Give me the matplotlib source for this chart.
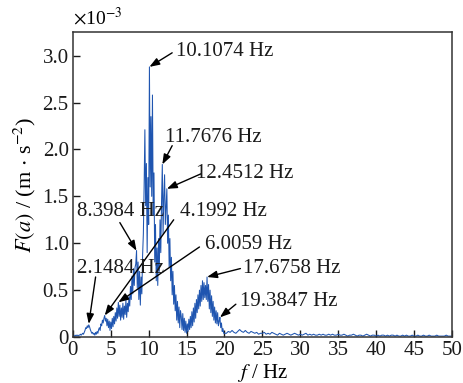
import matplotlib
matplotlib.use('Agg')
import matplotlib.pyplot as plt
import numpy as np

plt.rcParams['font.family'] = ['Liberation Serif', 'DejaVu Serif']
plt.rcParams['mathtext.fontset'] = 'stix'

# spectrum amplitude (x1e-3), 0.0 - 19.9 Hz in 0.1 Hz steps
amp_low = [
    0.00, 0.01, 0.01, 0.02, 0.01, 0.02, 0.02, 0.01, 0.02, 0.02,
    0.03, 0.02, 0.03, 0.04, 0.03, 0.05, 0.07, 0.10, 0.09, 0.12,
    0.10, 0.13, 0.11, 0.08, 0.06, 0.04, 0.05, 0.03, 0.04, 0.02,
    0.05, 0.03, 0.06, 0.04, 0.08, 0.10, 0.07, 0.14, 0.12, 0.18,
    0.15, 0.20, 0.23, 0.17, 0.20, 0.12, 0.19, 0.10, 0.17, 0.07,
    0.16, 0.09, 0.20, 0.11, 0.22, 0.14, 0.26, 0.17, 0.31, 0.20,
    0.37, 0.22, 0.34, 0.18, 0.31, 0.21, 0.36, 0.19, 0.33, 0.24,
    0.39, 0.21, 0.36, 0.27, 0.43, 0.33, 0.54, 0.40, 0.65, 0.46,
    0.73, 0.55, 0.74, 0.78, 0.92, 0.52, 0.80, 0.40, 0.70, 0.34,
    0.64, 0.46, 0.87, 1.10, 1.60, 2.21, 1.40, 1.85, 0.90, 1.70,
    1.20, 2.88, 1.60, 2.35, 1.50, 2.58, 1.30, 1.75, 0.80, 1.20,
    0.60, 0.95, 0.55, 1.05, 0.70, 1.25, 0.90, 1.45, 1.84, 1.10,
    1.50, 1.73, 1.20, 1.40, 1.58, 1.00, 1.30, 0.75, 1.05, 0.60,
    0.85, 0.45, 0.70, 0.35, 0.55, 0.28, 0.45, 0.18, 0.38, 0.15,
    0.32, 0.10, 0.28, 0.22, 0.08, 0.25, 0.07, 0.20, 0.05, 0.17,
    0.04, 0.14, 0.06, 0.19, 0.08, 0.22, 0.10, 0.27, 0.12, 0.31,
    0.16, 0.36, 0.20, 0.40, 0.26, 0.45, 0.30, 0.50, 0.33, 0.55,
    0.38, 0.60, 0.40, 0.58, 0.42, 0.55, 0.40, 0.64, 0.38, 0.56,
    0.30, 0.50, 0.26, 0.44, 0.22, 0.38, 0.18, 0.32, 0.15, 0.28,
    0.14, 0.26, 0.12, 0.17, 0.21, 0.10, 0.15, 0.06, 0.09, 0.04,
]
freq_low = np.round(np.arange(len(amp_low)) * 0.1, 2)

# 20.0 - 50.0 Hz in 0.25 Hz steps
amp_high = [
    0.04,
    0.04, 0.06, 0.05, 0.07, 0.05, 0.04, 0.06, 0.08, 0.06, 0.05,
    0.07, 0.05, 0.04, 0.06, 0.05, 0.04, 0.05, 0.03, 0.04, 0.04,
    0.05, 0.03, 0.04, 0.03, 0.05, 0.04, 0.03, 0.02, 0.04, 0.03,
    0.02, 0.03, 0.04, 0.03, 0.02, 0.03, 0.04, 0.03, 0.02, 0.03,
    0.02, 0.03, 0.04, 0.02, 0.03, 0.02, 0.03, 0.02, 0.02, 0.03,
    0.02, 0.03, 0.02, 0.02, 0.03, 0.02, 0.03, 0.02, 0.02, 0.03,
    0.02, 0.02, 0.03, 0.02, 0.01, 0.02, 0.02, 0.03, 0.02, 0.01,
    0.02, 0.02, 0.01, 0.02, 0.03, 0.02, 0.01, 0.02, 0.02, 0.01,
    0.02, 0.01, 0.02, 0.02, 0.01, 0.02, 0.01, 0.02, 0.02, 0.01,
    0.02, 0.01, 0.01, 0.02, 0.01, 0.02, 0.01, 0.01, 0.02, 0.01,
    0.01, 0.02, 0.01, 0.01, 0.02, 0.01, 0.01, 0.02, 0.01, 0.01,
    0.01, 0.02, 0.01, 0.01, 0.01, 0.01, 0.02, 0.01, 0.01, 0.01,
]
freq_high = np.round(20.0 + np.arange(len(amp_high)) * 0.25, 2)

freq = np.concatenate([freq_low, freq_high])
amp = np.concatenate([amp_low, amp_high])

# annotated peaks: label, peak (f, a), text position (f, a)
peak_labels = ['10.1074 Hz', '11.7676 Hz', '12.4512 Hz', '8.3984 Hz', '4.1992 Hz',
               '6.0059 Hz', '2.1484 Hz', '17.6758 Hz', '19.3847 Hz']
peak_xy = [(10.1, 2.88), (11.8, 1.84), (12.4, 1.58), (8.4, 0.92), (4.2, 0.23),
           (6.0, 0.37), (2.1, 0.14), (17.7, 0.64), (19.4, 0.21)]
text_xy = [(13.6, 3.04), (12.1, 2.13), (16.2, 1.74), (0.6, 1.34), (14.1, 1.34),
           (17.4, 0.99), (0.5, 0.73), (22.4, 0.73), (22.0, 0.38)]
tail_xy = [(13.1, 3.03), (13.1, 2.04), (16.9, 1.74), (6.2, 1.22), (13.3, 1.25),
           (16.7, 0.96), (3.0, 0.64), (22.1, 0.73), (21.5, 0.35)]

fig = plt.figure(figsize=(4.64, 3.83), dpi=100)
ax = fig.add_axes([0.157, 0.120, 0.817, 0.796])

ax.plot(freq, amp, color='#1f55b0', lw=0.75)

for lab, p, t, tl in zip(peak_labels, peak_xy, text_xy, tail_xy):
    ax.annotate('', xy=p, xytext=tl,
                arrowprops=dict(arrowstyle='-|>,head_length=0.6,head_width=0.22',
                                color='black', lw=1.0, shrinkA=0, shrinkB=0))
    ax.text(t[0], t[1], lab, fontsize=15, ha='left', va='center', color='#1a1a1a')

ax.set_xlim(0, 50)
ax.set_ylim(0, 3.25)
ax.set_xticks(np.arange(0, 51, 5))
ax.set_yticks([0, 0.5, 1.0, 1.5, 2.0, 2.5, 3.0])
ax.set_yticklabels(['0', '0.5', '1.0', '1.5', '2.0', '2.5', '3.0'])
ax.tick_params(direction='in', length=5, width=1.0, labelsize=15, colors='#1a1a1a', pad=3)
for s in ax.spines.values():
    s.set_linewidth(1.1)
    s.set_color('#333333')

ax.set_xlabel(r'$f$ / Hz', fontsize=15, labelpad=1)
ax.set_ylabel(r'$F(a)$ / (m $\cdot$ s$^{-2}$)', fontsize=16, labelpad=3)
ax.text(0.0, 1.012, r'$\times$10$^{-3}$', transform=ax.transAxes, fontsize=14,
        ha='left', va='bottom')

plt.savefig('out.png', dpi=100, facecolor='white')
plt.close()
